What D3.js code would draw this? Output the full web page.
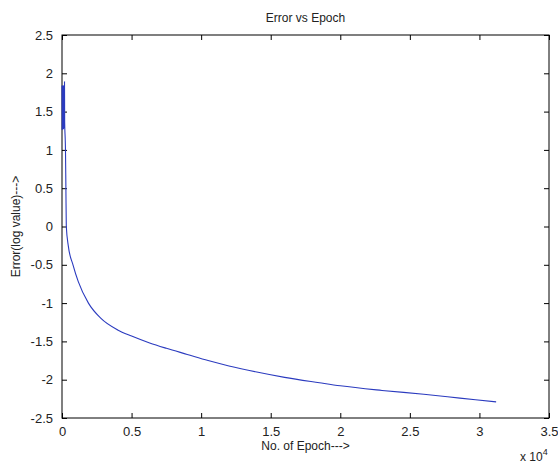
<!DOCTYPE html>
<html>
<head>
<meta charset="utf-8">
<script src="https://cdn.jsdelivr.net/npm/d3@7"></script>
<style>
  body { margin: 0; background: #fff; }
  text { font-family: "Liberation Sans", Arial, sans-serif; fill: #222; }
</style>
</head>
<body>
<svg id="chart"></svg>
<script>
// epochs and error (log value)
var epochs = [0, 10, 20, 30, 40, 50, 60, 70, 80, 90, 100, 110, 120, 130, 140, 150, 160, 170, 180, 190, 200,
              230, 250, 280, 310, 450, 790, 1170, 1900, 2800, 4000, 5000, 6300, 7500, 9000,
              10500, 12000, 14000, 16000, 18500, 20000, 23000, 26000, 28600, 31200];
var errors = [1.84, 1.26, 1.83, 1.27, 1.84, 1.27, 1.83, 1.28, 1.84, 1.28, 1.83, 1.27, 1.84, 1.28, 1.83, 1.29, 1.84, 1.30, 1.89, 1.40, 1.30,
              1.15, 1.0, 0.5, 0.0, -0.25, -0.5, -0.72, -1.0, -1.2, -1.35, -1.43, -1.52, -1.59, -1.67,
              -1.75, -1.82, -1.90, -1.97, -2.04, -2.08, -2.14, -2.19, -2.24, -2.29];
var xTicks = [0, 5000, 10000, 15000, 20000, 25000, 30000, 35000];
var yTicks = [-2.5, -2, -1.5, -1, -0.5, 0, 0.5, 1, 1.5, 2, 2.5];

var width = 558, height = 465;
var mLeft = 62, mRight = 549, mTop = 35, mBottom = 418;

var svg = d3.select("#chart").attr("width", width).attr("height", height);

var x = d3.scaleLinear().domain([0, 35000]).range([mLeft, mRight]);
var y = d3.scaleLinear().domain([-2.5, 2.5]).range([mBottom, mTop]);

// box
svg.append("rect")
    .attr("x", mLeft).attr("y", mTop)
    .attr("width", mRight - mLeft).attr("height", mBottom - mTop)
    .attr("fill", "#fff").attr("stroke", "#000").attr("stroke-width", 1);

// axes with inward ticks
var fmtX = function (d) { return d / 10000; };
var fmtY = function (d) { return d; };

svg.append("g").attr("transform", "translate(0," + mBottom + ")")
    .call(d3.axisBottom(x).tickValues(xTicks).tickSizeInner(-5).tickSizeOuter(0).tickPadding(9).tickFormat(fmtX))
    .call(function (g) { g.select(".domain").remove(); });
svg.append("g").attr("transform", "translate(0," + mTop + ")")
    .call(d3.axisTop(x).tickValues(xTicks).tickSizeInner(-5).tickSizeOuter(0).tickFormat(""))
    .call(function (g) { g.select(".domain").remove(); });
svg.append("g").attr("transform", "translate(" + mLeft + ",0)")
    .call(d3.axisLeft(y).tickValues(yTicks).tickSizeInner(-5).tickSizeOuter(0).tickPadding(9).tickFormat(fmtY))
    .call(function (g) { g.select(".domain").remove(); });
svg.append("g").attr("transform", "translate(" + mRight + ",0)")
    .call(d3.axisRight(y).tickValues(yTicks).tickSizeInner(-5).tickSizeOuter(0).tickFormat(""))
    .call(function (g) { g.select(".domain").remove(); });

svg.selectAll(".tick text")
    .style("font-family", "'Liberation Sans', Arial, sans-serif")
    .style("font-size", "13px").attr("fill", "#222");
svg.selectAll(".tick line").attr("stroke", "#000");

// line
var pts = epochs.map(function (e, i) { return [e, errors[i]]; });
var line = d3.line()
    .x(function (d) { return x(d[0]); })
    .y(function (d) { return y(d[1]); })
    .curve(d3.curveMonotoneX);

svg.append("path")
    .datum(pts)
    .attr("d", line)
    .attr("fill", "none")
    .attr("stroke", "#2b3bbf")
    .attr("stroke-width", 1.1);

// labels
svg.append("text").attr("x", (mLeft + mRight) / 2).attr("y", 22)
    .attr("text-anchor", "middle").style("font-size", "12px").text("Error vs Epoch");
svg.append("text").attr("x", (mLeft + mRight) / 2).attr("y", 450)
    .attr("text-anchor", "middle").style("font-size", "12px").text("No. of Epoch--->");
svg.append("text")
    .attr("transform", "translate(20," + ((mTop + mBottom) / 2) + ") rotate(-90)")
    .attr("text-anchor", "middle").style("font-size", "12px").text("Error(log value)--->");
var mult = svg.append("text").attr("x", 520).attr("y", 461).style("font-size", "12px");
mult.append("tspan").text("x 10");
mult.append("tspan").attr("dy", -6).style("font-size", "9px").text("4");
</script>
</body>
</html>
